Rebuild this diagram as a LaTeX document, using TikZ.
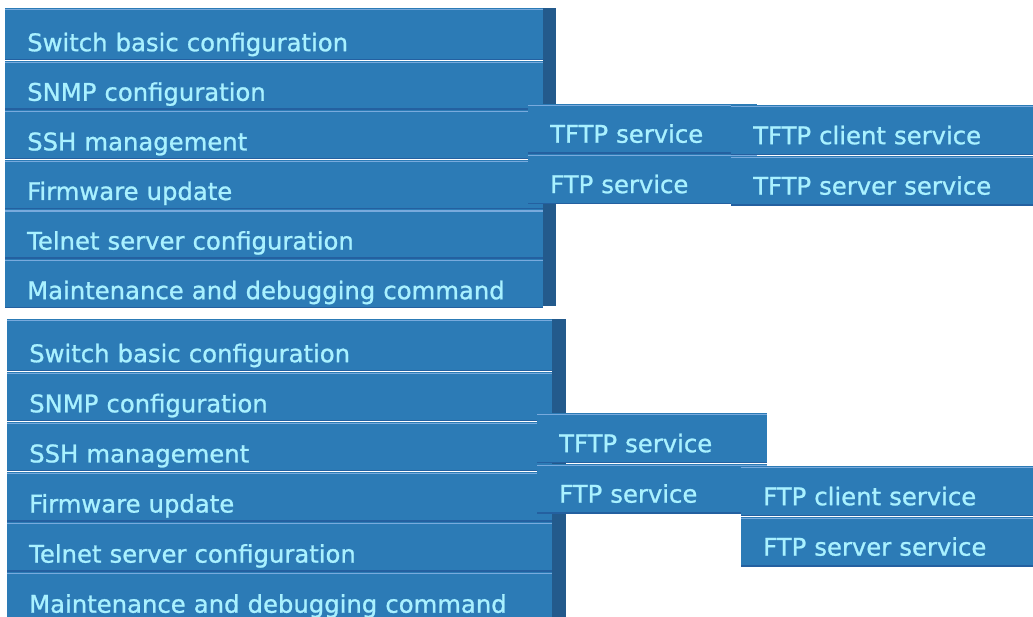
\documentclass[tikz,border=0pt]{standalone}
\usepackage{fontspec}
\setmainfont{DejaVu Sans}
\newfontfamily\menufont{DejaVu Sans}[FakeBold=1]
\usetikzlibrary{positioning}
\definecolor{menublue}{HTML}{2C7BB6}
\definecolor{menudark}{HTML}{2460A0}
\definecolor{menulight}{HTML}{78AADD}
\definecolor{menuedge}{HTML}{235A8C}
\definecolor{menutext}{HTML}{A9F1FF}

\begin{document}
\begin{tikzpicture}[
  x=1pt, y=-1pt,
  node distance=0pt,
  item/.style={fill=menublue, text=menutext, anchor=north west, inner xsep=22pt, inner ysep=0pt,
    align=left, text depth=9pt, font=\menufont\fontsize{24.3}{29}\selectfont,
    path picture={
      \draw[menulight, line width=1.2pt] ([yshift=-1.6pt]path picture bounding box.north west)
        -- ([yshift=-1.6pt]path picture bounding box.north east);
      \draw[menudark, line width=1.4pt] ([yshift=0.7pt]path picture bounding box.south west)
        -- ([yshift=0.7pt]path picture bounding box.south east);
    }},
  topitem/.style={item, text width=494pt, minimum height=49.2pt, text height=40.2pt},
  botitem/.style={item, text width=501pt, minimum height=49.7pt, text height=40.7pt},
  first/.style={minimum height=52pt, text height=43pt},
  subitem/.style={item, text width=#1, minimum height=50pt, text height=39pt, text depth=11pt},
  edgestrip/.style={fill=menuedge, anchor=north west, inner sep=0pt, minimum width=13pt}
]
  \useasboundingbox (0,0) rectangle (1033,617);
  \clip (0,0) rectangle (1033,617);

  % upper menu, TFTP branch open
  \node[edgestrip, minimum height=298pt] (topstrip) at (543,8) {};
  \node[topitem, first] (topbasic) at (5,8) {Switch basic configuration};
  \node[topitem, below=of topbasic] (topsnmp) {SNMP configuration};
  \node[topitem, below=of topsnmp] (topssh) {SSH management};
  \node[topitem, below=of topssh] (topfw) {Firmware update};
  \node[topitem, below=of topfw] (toptelnet) {Telnet server configuration};
  \node[topitem, below=of toptelnet] (topmaint) {Maintenance and debugging command};

  \node[subitem=185pt] (toptftp) at (528,103.5) {TFTP service};
  \node[subitem=185pt, below=of toptftp] (topftp) {FTP service};

  \node[subitem=258pt] (toptftpclient) at (731,105) {TFTP client service};
  \node[subitem=258pt, below=of toptftpclient] (toptftpserver) {TFTP server service};

  % lower menu, FTP branch open
  \node[edgestrip, minimum width=14pt, minimum height=300pt] (botstrip) at (552,319) {};
  \node[botitem, first] (botbasic) at (7,319) {Switch basic configuration};
  \node[botitem, below=of botbasic] (botsnmp) {SNMP configuration};
  \node[botitem, below=of botsnmp] (botssh) {SSH management};
  \node[botitem, below=of botssh] (botfw) {Firmware update};
  \node[botitem, below=of botfw] (bottelnet) {Telnet server configuration};
  \node[botitem, below=of bottelnet] (botmaint) {Maintenance and debugging command};

  \node[subitem=186pt] (bottftp) at (537,413) {TFTP service};
  \node[subitem=186pt, below=of bottftp] (botftp) {FTP service};

  \node[subitem=248pt] (botftpclient) at (741,466) {FTP client service};
  \node[subitem=248pt, below=of botftpclient] (botftpserver) {FTP server service};

\end{tikzpicture}
\end{document}
